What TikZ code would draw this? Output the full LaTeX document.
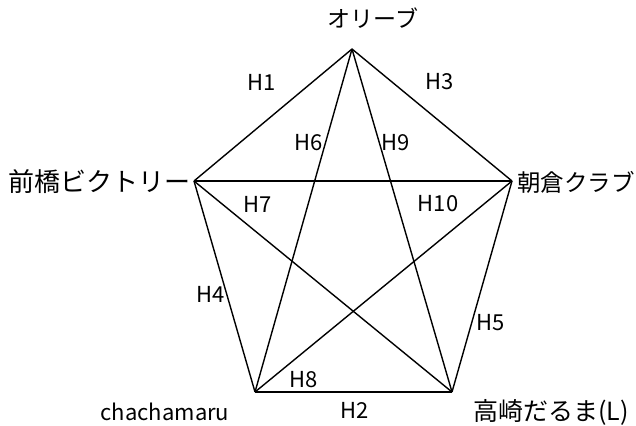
\documentclass[tikz,border=0pt]{standalone}
\usepackage{fontspec}
\setmainfont{Noto Sans CJK JP}
\newcommand{\fsz}[1]{\fontsize{#1}{#1}\selectfont}
\begin{document}
\begin{tikzpicture}[x=1pt,y=-1pt,
  edge/.style={line width=1.4pt,black},
  lbl/.style={font=\fsz{22},inner sep=0pt},
  team/.style={inner sep=0pt}]
\useasboundingbox[fill=white] (0,0) rectangle (636,425);
\coordinate (O) at (352,49);
\coordinate (L) at (194,181);
\coordinate (R) at (512,181);
\coordinate (BL) at (255,392);
\coordinate (BR) at (452,392);
% pentagon
\draw[edge] (O) -- (L);
\draw[edge] (O) -- (R);
\draw[edge] (L) -- (BL);
\draw[edge] (R) -- (BR);
\draw[edge] (BL) -- (BR);
% star
\draw[edge] (O) -- (BL);
\draw[edge] (O) -- (BR);
\draw[edge] (L) -- (R);
\draw[edge] (L) -- (BR);
\draw[edge] (R) -- (BL);
% team names
\node[team,font=\fsz{23}] (tO) at (373,18) {オリーブ};
\node[team,font=\fsz{26},anchor=east] (tL) at (191,182) {前橋ビクトリー};
\node[team,font=\fsz{23.5},anchor=west] (tR) at (517,182) {朝倉クラブ};
\node[team,font=\fsz{22}] (tBL) at (165,412) {chachamaru};
\node[team,font=\fsz{25},anchor=west] (tBR) at (473,412) {高崎だるま(L)};
% match labels
\node[lbl] (h1) at (262,82) {H1};
\node[lbl] (h3) at (440,82) {H3};
\node[lbl] (h6) at (309,143) {H6};
\node[lbl] (h9) at (396,143) {H9};
\node[lbl] (h7) at (258,204) {H7};
\node[lbl] (h10) at (438,204) {H10};
\node[lbl] (h4) at (211,294) {H4};
\node[lbl] (h5) at (491,323) {H5};
\node[lbl] (h8) at (304,380) {H8};
\node[lbl] (h2) at (355,410) {H2};
\end{tikzpicture}
\end{document}
